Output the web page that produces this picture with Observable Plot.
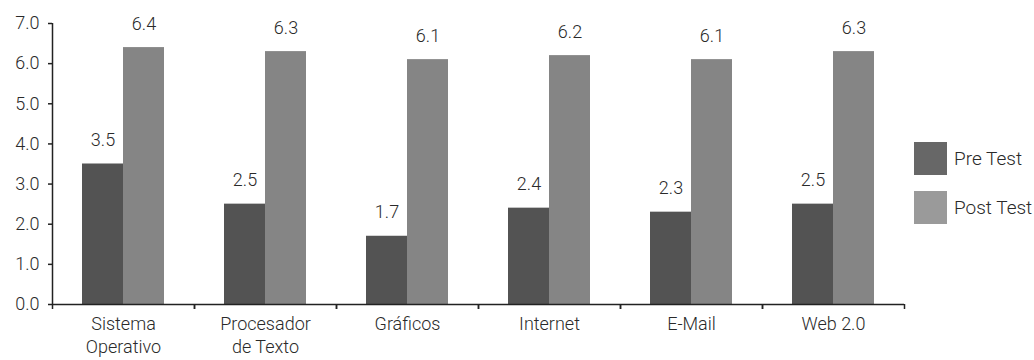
<!DOCTYPE html>
<html>
<head>
<meta charset="utf-8">
<script src="https://cdn.jsdelivr.net/npm/d3@7"></script>
<script src="https://cdn.jsdelivr.net/npm/@observablehq/plot@0.6"></script>
<style>
  body { margin: 0; background: #fff; }
  #wrap { position: relative; width: 1034px; height: 360px; }
  #legend { position: absolute; left: 914px; top: 134px; font-family: Roboto, sans-serif; font-weight: 300; font-size: 19px; color: #2a2a2a; white-space: nowrap; }
  .item { display: flex; align-items: center; height: 49px; }
  .sw { width: 33px; height: 33px; margin-right: 7px; }
</style>
</head>
<body>
<div id="wrap"></div>
<script>
const categories = ["Sistema Operativo", "Procesador de Texto", "Gráficos", "Internet", "E-Mail", "Web 2.0"];
const categoryLabels = ["Sistema\nOperativo", "Procesador\nde Texto", "Gráficos", "Internet", "E-Mail", "Web 2.0"];
const series = ["Pre Test", "Post Test"];
const preTest = [3.5, 2.5, 1.7, 2.4, 2.3, 2.5];
const postTest = [6.4, 6.3, 6.1, 6.2, 6.1, 6.3];
const yTicks = [0, 1, 2, 3, 4, 5, 6, 7];

const barColors = {"Pre Test": "#535353", "Post Test": "#858585"};
const legendColors = {"Pre Test": "#676767", "Post Test": "#9a9a9a"};

const data = [];
categories.forEach((c, i) => {
  data.push({category: c, series: "Pre Test", value: preTest[i]});
  data.push({category: c, series: "Post Test", value: postTest[i]});
});

const W = 1034, H = 360, ml = 52, mr = 130, mt = 23, mb = 56;
const band = (W - ml - mr) / categories.length;
const barW = 41;
const gap = (band - 2 * barW) / 2;
const labelOf = new Map(categories.map((c, i) => [c, categoryLabels[i]]));

const pre = data.filter(d => d.series === "Pre Test");
const post = data.filter(d => d.series === "Post Test");
const font = "Roboto, sans-serif";
const axisColor = "#222";

const chart = Plot.plot({
  width: W, height: H,
  marginLeft: ml, marginRight: mr, marginTop: mt, marginBottom: mb,
  style: {fontFamily: font, fontSize: "18px", fontWeight: 300, color: "#2a2a2a", background: "#fff"},
  x: {domain: categories, padding: 0, label: null, axis: null},
  y: {domain: [0, 7], label: null, axis: null},
  marks: [
    Plot.barY(pre, {x: "category", y: "value", fill: barColors["Pre Test"], insetLeft: gap, insetRight: band - gap - barW}),
    Plot.barY(post, {x: "category", y: "value", fill: barColors["Post Test"], insetLeft: gap + barW, insetRight: gap}),
    Plot.text(pre, {x: "category", y: "value", text: d => d.value.toFixed(1), dx: -barW / 2, dy: -18, lineAnchor: "bottom", fill: "#2a2a2a", fontSize: 18}),
    Plot.text(post, {x: "category", y: "value", text: d => d.value.toFixed(1), dx: barW / 2, dy: -18, lineAnchor: "bottom", fill: "#2a2a2a", fontSize: 18}),
    Plot.axisY({ticks: yTicks, tickFormat: d3.format(".1f"), tickSize: 4, tickPadding: 9, stroke: axisColor, strokeWidth: 1.5, label: null}),
    Plot.ruleX([categories[0]], {y1: 0, y2: 7, dx: -band / 2, stroke: axisColor, strokeWidth: 1.5}),
    Plot.ruleY([0], {stroke: axisColor, strokeWidth: 1.5}),
    Plot.axisX({tickSize: 5, tickFormat: () => "", dx: -band / 2, stroke: axisColor, strokeWidth: 1.5, label: null}),
    Plot.axisX({tickSize: 5, tickFormat: () => "", dx: band / 2, stroke: axisColor, strokeWidth: 1.5, label: null}),
    Plot.axisX({tickSize: 0, tickPadding: 10, tickFormat: d => labelOf.get(d), lineHeight: 1.25, label: null})
  ]
});
document.getElementById("wrap").appendChild(chart);

const legend = document.createElement("div");
legend.id = "legend";
series.forEach(s => {
  const it = document.createElement("div");
  it.className = "item";
  const sw = document.createElement("div");
  sw.className = "sw";
  sw.style.background = legendColors[s];
  const t = document.createElement("span");
  t.textContent = s;
  it.appendChild(sw); it.appendChild(t);
  legend.appendChild(it);
});
document.getElementById("wrap").appendChild(legend);
</script>
</body>
</html>
